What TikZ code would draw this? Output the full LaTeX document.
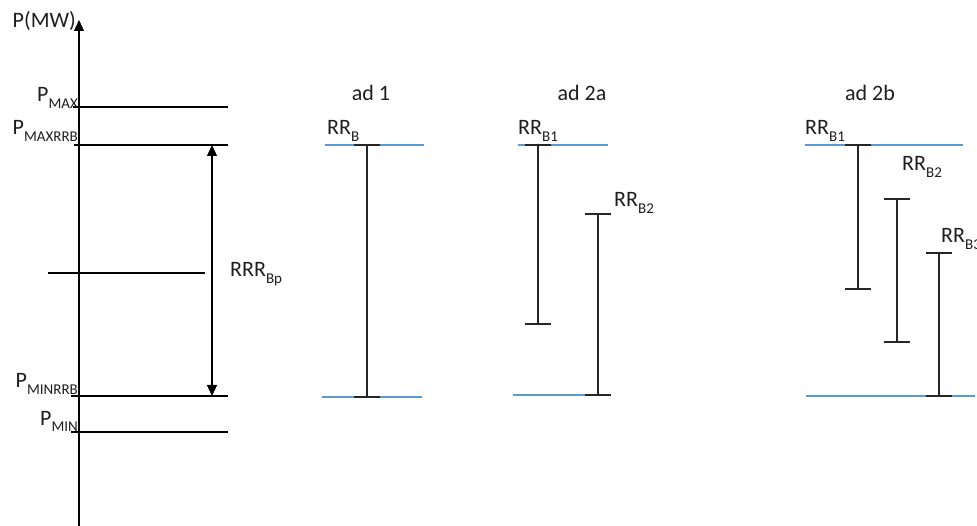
\documentclass[tikz,border=0pt]{standalone}
\usepackage{fontspec}
\setmainfont{Carlito}
\usetikzlibrary{arrows.meta}
\definecolor{levelblue}{RGB}{91,155,213}
\definecolor{inktext}{RGB}{30,30,30}
% lowered, smaller subscript for the labels
\newcommand\lsub[1]{\raisebox{-0.28em}{\fontsize{15}{16}\selectfont #1}}

\begin{document}
\begin{tikzpicture}[x=1pt,y=-1pt,
  lbl/.style={inner sep=0pt, text=inktext, font=\fontsize{22}{26}\selectfont},
  level/.style={line width=1.2pt, black},
  bandedge/.style={line width=1.2pt, levelblue},
  rangebar/.style={line width=1.2pt, black!85},
  barcap/.style={line width=1.8pt, black!85},
  tip/.style={-{Triangle[length=11pt,width=10pt]}},
  bothtips/.style={{Triangle[length=11pt,width=10pt]}-{Triangle[length=11pt,width=10pt]}}]
\useasboundingbox (0,0) rectangle (977,526);

% ---- power axis ----
\coordinate (axisbot) at (79,526);
\coordinate (axistop) at (79,20);
\draw[level, tip] (axisbot) -- (axistop);
\node[lbl, anchor=base east] (pmw) at (76,28) {P(MW)};

% ---- power levels ----
\coordinate (pmaxL) at (73,107);    \coordinate (pmaxR) at (228,107);
\coordinate (pmaxrrbL) at (74,145); \coordinate (pmaxrrbR) at (228,145);
\coordinate (midL) at (48,273);     \coordinate (midR) at (205,273);
\coordinate (pminrrbL) at (71,396); \coordinate (pminrrbR) at (228,396);
\coordinate (pminL) at (71,432);    \coordinate (pminR) at (228,432);
\draw[level] (pmaxL) -- (pmaxR);
\draw[level] (pmaxrrbL) -- (pmaxrrbR);
\draw[level] (midL) -- (midR);
\draw[level] (pminrrbL) -- (pminrrbR);
\draw[level] (pminL) -- (pminR);

\node[lbl, anchor=base east] (lpmax) at (78,102) {P\lsub{MAX}};
\node[lbl, anchor=base east] (lpmaxrrb) at (78,135) {P\lsub{MAXRRB}};
\node[lbl, anchor=base east] (lpminrrb) at (78,388) {P\lsub{MINRRB}};
\node[lbl, anchor=base east] (lpmin) at (78,425) {P\lsub{MIN}};

% regulation range
\coordinate (rrrtop) at (212,145);
\coordinate (rrrbot) at (212,396);
\draw[level, bothtips] (rrrtop) -- (rrrbot);
\node[lbl, anchor=base west] (lrrr) at (230,277) {RRR\lsub{Bp}};

% ---- case headings ----
\node[lbl, anchor=base] (ad1) at (371,101) {ad 1};
\node[lbl, anchor=base] (ad2a) at (582,101) {ad 2a};
\node[lbl, anchor=base] (ad2b) at (870,101) {ad 2b};

% ---- band edges ----
\coordinate (e1tL) at (325,145); \coordinate (e1tR) at (424,145);
\coordinate (e1bL) at (322,397); \coordinate (e1bR) at (422,397);
\coordinate (e2tL) at (518,145); \coordinate (e2tR) at (608,145);
\coordinate (e2bL) at (513,395); \coordinate (e2bR) at (590,395);
\coordinate (e3tL) at (805,145); \coordinate (e3tR) at (963,145);
\coordinate (e3bL) at (806,396); \coordinate (e3bR) at (975,396);
\foreach \a/\b in {e1tL/e1tR, e1bL/e1bR, e2tL/e2tR, e2bL/e2bR, e3tL/e3tR, e3bL/e3bR}
  \draw[bandedge] (\a) -- (\b);

% ---- reserve ranges: name / x / top / bottom ----
\foreach \n/\x/\t/\b in {rb/367/145/397, rba/538/145/324, rbb/598/214/395,
                         rbc/858/145/289, rbd/897/199/342, rbe/939/253/396} {
  \coordinate (\n top) at (\x,\t);
  \coordinate (\n bot) at (\x,\b);
  \draw[rangebar] (\n top) -- (\n bot);
  \draw[barcap] ([xshift=-13pt]\n top) -- ([xshift=13pt]\n top);
  \draw[barcap] ([xshift=-13pt]\n bot) -- ([xshift=13pt]\n bot);
}

\node[lbl, anchor=base west] (lrrb) at (327,135) {RR\lsub{B}};
\node[lbl, anchor=base west] (lrrb1a) at (518,135) {RR\lsub{B1}};
\node[lbl, anchor=base west] (lrrb2a) at (614,207) {RR\lsub{B2}};
\node[lbl, anchor=base west] (lrrb1b) at (805,135) {RR\lsub{B1}};
\node[lbl, anchor=base west] (lrrb2b) at (902,171) {RR\lsub{B2}};
\node[lbl, anchor=base west] (lrrb3b) at (941,243) {RR\lsub{B3}};
\end{tikzpicture}
\end{document}
